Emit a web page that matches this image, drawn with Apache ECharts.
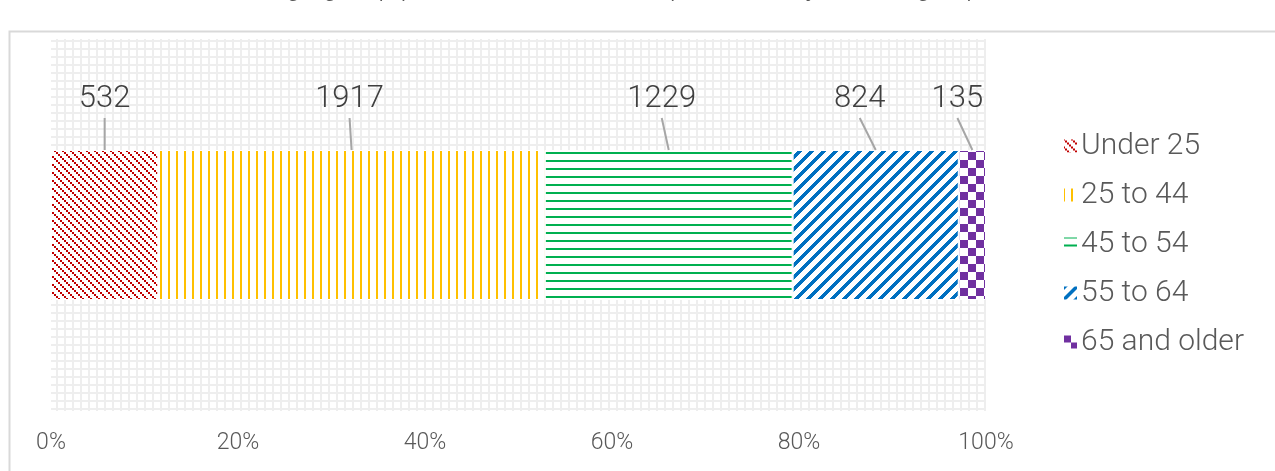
<!DOCTYPE html>
<html>
<head>
<meta charset="utf-8">
<script src="https://cdn.jsdelivr.net/npm/echarts@6/dist/echarts.min.js"></script>
<style>
  html, body { margin: 0; padding: 0; background: #ffffff; }
  #chart { width: 1275px; height: 471px; }
</style>
</head>
<body>
<div id="chart"></div>
<script>
// Staff counts by age band, shown as one 100% stacked bar
const titleText = 'Staff age group performance in the department by teaching experience';
const categories = ['All staff'];
const ageBands = ['Under 25', '25 to 44', '45 to 54', '55 to 64', '65 and older'];
const counts = [532, 1917, 1229, 824, 135];
const tickLabels = ['0%', '20%', '40%', '60%', '80%', '100%'];

const FONT = 'Roboto, "Liberation Sans", sans-serif';
const BAR_WIDTH = 150;
// horizontal nudge (px) of each value label relative to its segment centre
const labelShift = [0, -2, -7, -16, -15];

// ---- pattern fills -------------------------------------------------------
function makePattern(size, color, test) {
  const c = document.createElement('canvas');
  c.width = size; c.height = size;
  const ctx = c.getContext('2d');
  ctx.fillStyle = '#ffffff';
  ctx.fillRect(0, 0, size, size);
  ctx.fillStyle = color;
  for (let y = 0; y < size; y++) {
    for (let x = 0; x < size; x++) {
      if (test(x, y)) ctx.fillRect(x, y, 1, 1);
    }
  }
  return { image: c, repeat: 'repeat' };
}

const patterns = [
  // dotted downward diagonal
  makePattern(8, '#c00000', (x, y) => ((Math.floor(x / 2) - Math.floor(y / 2)) % 4 + 4) % 4 === 0),
  // vertical lines
  makePattern(8, '#ffc000', (x, y) => x < 2),
  // horizontal lines
  makePattern(8, '#00b050', (x, y) => y < 2),
  // wide upward diagonal
  makePattern(12, '#0070c0', (x, y) => (x + y) % 12 < 5),
  // large checkerboard
  makePattern(16, '#7030a0', (x, y) => (x < 8) === (y < 8))
];

// light grid texture for the plot area
const gridTexture = (function () {
  const c = document.createElement('canvas');
  c.width = 8; c.height = 8;
  const ctx = c.getContext('2d');
  ctx.fillStyle = '#eeeeee';
  ctx.fillRect(0, 0, 8, 8);
  ctx.fillStyle = '#ffffff';
  ctx.fillRect(2, 2, 6, 6);
  return { image: c, repeat: 'repeat' };
})();

// ---- derived values ------------------------------------------------------
const total = counts.reduce((a, b) => a + b, 0);
const shares = counts.map(v => v / total * 100);
const segments = [];
let acc = 0;
shares.forEach((p, i) => {
  segments.push([acc, acc + p, counts[i], 0]);
  acc += p;
});

const barSeries = ageBands.map((name, i) => ({
  name: name,
  type: 'bar',
  stack: 'total',
  barWidth: BAR_WIDTH,
  data: [shares[i]],
  itemStyle: { color: patterns[i], borderColor: '#ffffff', borderWidth: 1 },
  emphasis: { disabled: true }
}));

// value labels with leader lines, placed from each segment's extent
const labelSeries = {
  type: 'custom',
  name: 'labels',
  silent: true,
  z: 5,
  data: segments,
  encode: { x: [0, 1], y: 3 },
  renderItem: function (params, api) {
    const a = api.coord([api.value(0), 0]);
    const b = api.coord([api.value(1), 0]);
    const cx = (a[0] + b[0]) / 2;
    const top = a[1] - BAR_WIDTH / 2;
    const lx = cx + labelShift[params.dataIndex];
    return {
      type: 'group',
      children: [
        {
          type: 'line',
          shape: { x1: lx, y1: top - 32, x2: cx, y2: top },
          style: { stroke: '#a6a6a6', lineWidth: 2 }
        },
        {
          type: 'text',
          style: {
            text: String(api.value(2)),
            x: lx,
            y: top - 51,
            align: 'center',
            verticalAlign: 'middle',
            font: '300 31px ' + FONT,
            fill: '#404040'
          }
        }
      ]
    };
  }
};

const chart = echarts.init(document.getElementById('chart'), null, { renderer: 'canvas' });
chart.setOption({
  backgroundColor: '#ffffff',
  animation: false,
  title: {
    text: titleText,
    left: 'center',
    top: -31,
    textStyle: { fontFamily: FONT, fontWeight: 300, fontSize: 28, color: '#595959' }
  },
  graphic: [
    {
      type: 'rect',
      left: 7, top: 29, z: -10,
      shape: { width: 1300, height: 500 },
      style: { fill: 'none', stroke: '#d9d9d9', lineWidth: 2 }
    }
  ],
  legend: {
    orient: 'vertical',
    left: 1057,
    top: 126,
    icon: 'rect',
    itemWidth: 15,
    itemHeight: 15,
    itemGap: 19,
    data: ageBands,
    selectedMode: false,
    textStyle: { fontFamily: FONT, fontWeight: 300, fontSize: 30, lineHeight: 30, color: '#595959', padding: [0, 0, 0, -2] }
  },
  grid: {
    left: 51, right: 289, top: 39, bottom: 60,
    show: true,
    borderWidth: 0,
    backgroundColor: gridTexture
  },
  xAxis: {
    type: 'value',
    min: 0, max: 100, interval: 20,
    axisLine: { show: false },
    axisTick: { show: false },
    splitLine: { show: false },
    axisLabel: {
      margin: 21,
      fontFamily: FONT, fontWeight: 300, fontSize: 23, color: '#595959',
      formatter: v => tickLabels[Math.round(v / 20)]
    }
  },
  yAxis: {
    type: 'category',
    data: categories,
    show: false
  },
  series: barSeries.concat([labelSeries])
});
</script>
</body>
</html>
